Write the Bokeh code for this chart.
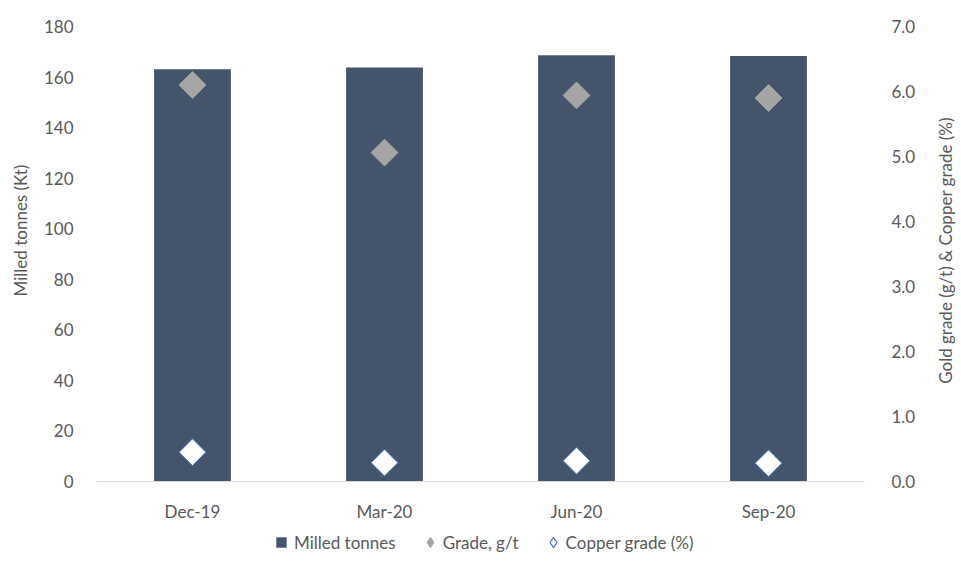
import math
from bokeh.plotting import figure
from bokeh.models import (FactorRange, Range1d, LinearAxis, Legend, LegendItem, Label,
                          FixedTicker, NumeralTickFormatter, ColumnDataSource)
from bokeh.embed import file_html
from bokeh.resources import INLINE

quarters = ["Dec-19", "Mar-20", "Jun-20", "Sep-20"]
milled_kt = [163.1, 163.8, 168.6, 168.3]
gold_grade = [6.10, 5.06, 5.94, 5.90]
copper_grade = [0.45, 0.29, 0.32, 0.28]
left_ticks = [0, 20, 40, 60, 80, 100, 120, 140, 160, 180]
right_ticks = [0, 1, 2, 3, 4, 5, 6, 7]

FONT = "Lato"
TXT = "#595959"
BAR = "#44546A"
GOLD = "#A5A5A5"
CU_LINE = "#4472C4"

W, H = 960, 555
TOP_PX, ZERO_PX = 26, 481          # pixel rows of the axis maximum and of zero
L_MAX, R_MAX = 180, 7
lpx = (ZERO_PX - TOP_PX) / L_MAX
rpx = (ZERO_PX - TOP_PX) / R_MAX

src = ColumnDataSource(dict(q=quarters, milled=milled_kt, gold=gold_grade, cu=copper_grade))

p = figure(x_range=FactorRange(*quarters, range_padding=0.5, range_padding_units="absolute"),
           y_range=Range1d(-(H - ZERO_PX) / lpx, L_MAX + TOP_PX / lpx),
           width=W, height=H, output_backend="svg", toolbar_location=None,
           min_border=0, outline_line_color=None)
p.extra_y_ranges = {"grade": Range1d(-(H - ZERO_PX) / rpx, R_MAX + TOP_PX / rpx)}
p.grid.visible = False

p.vbar(x="q", top="milled", width=0.4, source=src, fill_color=BAR, line_color=None)
p.scatter(x="q", y="gold", source=src, y_range_name="grade", marker="square",
          angle=math.pi / 4, size=19, fill_color=GOLD, line_color=GOLD)
p.scatter(x="q", y="cu", source=src, y_range_name="grade", marker="square",
          angle=math.pi / 4, size=19, fill_color="white", line_color=CU_LINE, line_width=1)

# zero-size proxies: invisible in the plot, they only give the legend its symbols
r1 = p.scatter(x="q", y="milled", source=src, marker="square", size=0,
               fill_color=BAR, line_color=None)
r2 = p.scatter(x="q", y="gold", source=src, y_range_name="grade", marker="diamond", size=0,
               fill_color=GOLD, line_color=GOLD)
r3 = p.scatter(x="q", y="cu", source=src, y_range_name="grade", marker="diamond", size=0,
               fill_color="white", line_color=CU_LINE, line_width=1.2)

def style(ax):
    ax.major_label_text_font = FONT
    ax.major_label_text_font_size = "17px"
    ax.major_label_text_color = TXT
    ax.major_tick_line_color = None
    ax.minor_tick_line_color = None

ya = p.yaxis[0]
ya.ticker = FixedTicker(ticks=left_ticks)
ya.axis_line_color = None
ya.fixed_location = 0
ya.major_label_standoff = 17
style(ya)

xa = p.xaxis[0]
xa.axis_line_color = "#D9D9D9"
xa.axis_line_width = 1
xa.fixed_location = 0
xa.bounds = (0, len(quarters))
xa.major_label_standoff = 13
style(xa)

ra = LinearAxis(y_range_name="grade", ticker=FixedTicker(ticks=right_ticks),
                formatter=NumeralTickFormatter(format="0.0"))
ra.axis_line_color = None
ra.fixed_location = len(quarters)
ra.major_label_standoff = 21
style(ra)
p.add_layout(ra, "right")

for txt, sx, sy in [("Milled tonnes (Kt)", 20, H - 230),
                    ("Gold grade (g/t) & Copper grade (%)", 945, H - 250)]:
    p.add_layout(Label(x=sx, y=sy, x_units="screen", y_units="screen", text=txt,
                       angle=math.pi / 2, text_align="center", text_baseline="middle",
                       text_font=FONT, text_font_size="17px", text_color=TXT))

legend = Legend(items=[LegendItem(label="Milled tonnes", renderers=[r1]),
                       LegendItem(label="Grade, g/t", renderers=[r2]),
                       LegendItem(label="Copper grade (%)", renderers=[r3])],
                orientation="horizontal", location=(268, 0),
                label_text_font=FONT, label_text_font_size="17px", label_text_color=TXT,
                glyph_width=26, glyph_height=26, spacing=21, label_standoff=0,
                border_line_color=None, background_fill_alpha=0, margin=0, padding=0)
p.add_layout(legend, "center")

open("out.html", "w").write(file_html(p, INLINE))
